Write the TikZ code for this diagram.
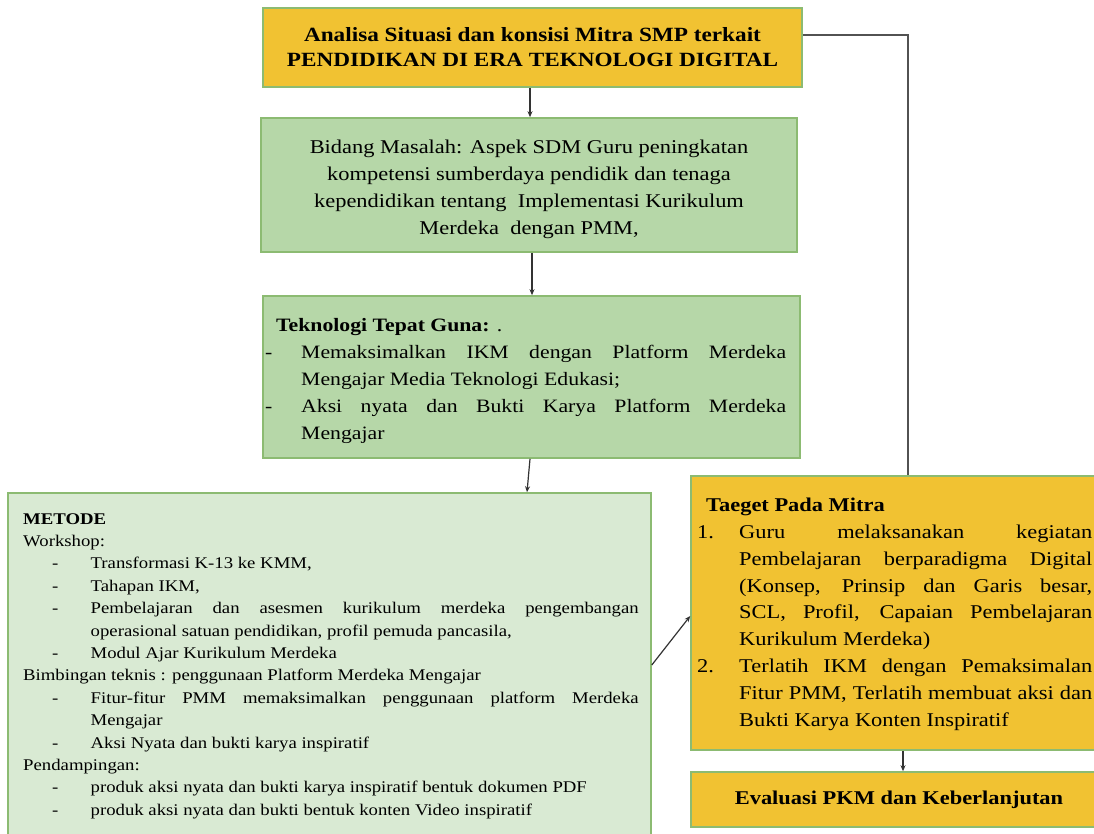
\documentclass[tikz,border=0pt]{standalone}
\usepackage{fontspec}
\setmainfont[FakeStretch=1.15]{Liberation Serif}
\usetikzlibrary{arrows.meta}
\definecolor{orng}{HTML}{F1C232}
\definecolor{gmid}{HTML}{B6D7A8}
\definecolor{glight}{HTML}{D9EAD3}
\definecolor{bord}{HTML}{8CBB72}
\definecolor{conn}{HTML}{333333}
\newcommand{\jl}[2]{\makebox[#1][s]{#2}}
\begin{document}
\begin{tikzpicture}[x=1pt,y=-1pt,
  box/.style={draw=bord,line width=1.6pt,inner sep=0pt,rectangle},
  txt/.style={inner sep=0pt,anchor=north west,align=left},
  arr/.style={draw=conn,line width=1.2pt,-{Stealth[length=6pt,width=5pt]}},
  plain/.style={draw=conn!85,line width=1.4pt}]
\useasboundingbox (0,0) rectangle (1094,834);
\clip (0,0) rectangle (1094,834);
% boxes
\node[box,fill=orng,minimum width=539pt,minimum height=79pt,align=center,
  font=\fontsize{20.2}{25}\selectfont\bfseries] (top) at (532.5,47.5)
  {Analisa Situasi dan konsisi Mitra SMP terkait\\PENDIDIKAN DI ERA TEKNOLOGI DIGITAL};
\node[box,fill=gmid,minimum width=536pt,minimum height=134pt,align=center,
  font=\fontsize{19.5}{27}\selectfont] (bid) at (529,185)
  {\rule{0pt}{22.5pt}Bidang Masalah: Aspek SDM Guru peningkatan\\kompetensi sumberdaya pendidik dan tenaga\\kependidikan tentang\ \ Implementasi Kurikulum\\Merdeka\ \ dengan PMM,};
\node[box,fill=gmid,minimum width=537pt,minimum height=162pt] (tek) at (531.5,377) {};
\node[box,fill=glight,minimum width=643pt,minimum height=352pt] (met) at (329.5,669) {};
\node[box,fill=orng,minimum width=416pt,minimum height=274pt] (tae) at (899,613) {};
\node[box,fill=orng,minimum width=416pt,minimum height=55pt,
  font=\fontsize{19.5}{24}\selectfont\bfseries] (eva) at (899,799.5) {Evaluasi PKM dan Keberlanjutan};
% texts
\node[txt,font=\fontsize{18.9}{27}\selectfont] (tektxt) at (262,318) {%
\hspace*{14pt}\textbf{Teknologi Tepat Guna:} .\\
\makebox[39pt][l]{\hspace*{3pt}-}\jl{485pt}{Memaksimalkan IKM dengan Platform Merdeka}\\
\hspace*{39pt}Mengajar Media Teknologi Edukasi;\\
\makebox[39pt][l]{\hspace*{3pt}-}\jl{485pt}{Aksi nyata dan Bukti Karya Platform Merdeka}\\
\hspace*{39pt}Mengajar};
\node[txt,font=\fontsize{16.3}{22.4}\selectfont] (mettxt) at (23,513) {%
\textbf{METODE}\\
Workshop:\\
\makebox[67.5pt][l]{\hspace*{29pt}-}Transformasi K-13 ke KMM,\\
\makebox[67.5pt][l]{\hspace*{29pt}-}Tahapan IKM,\\
\makebox[67.5pt][l]{\hspace*{29pt}-}\jl{548pt}{Pembelajaran dan asesmen kurikulum merdeka pengembangan}\\
\hspace*{67.5pt}operasional satuan pendidikan, profil pemuda pancasila,\\
\makebox[67.5pt][l]{\hspace*{29pt}-}Modul Ajar Kurikulum Merdeka\\
Bimbingan teknis : penggunaan Platform Merdeka Mengajar\\
\makebox[67.5pt][l]{\hspace*{29pt}-}\jl{548pt}{Fitur-fitur PMM memaksimalkan penggunaan platform Merdeka}\\
\hspace*{67.5pt}Mengajar\\
\makebox[67.5pt][l]{\hspace*{29pt}-}Aksi Nyata dan bukti karya inspiratif\\
Pendampingan:\\
\makebox[67.5pt][l]{\hspace*{29pt}-}produk aksi nyata dan bukti karya inspiratif bentuk dokumen PDF\\
\makebox[67.5pt][l]{\hspace*{29pt}-}produk aksi nyata dan bukti bentuk konten Video inspiratif};
\node[txt,font=\fontsize{19.5}{26.8}\selectfont] (taetxt) at (697,498) {%
\hspace*{9pt}\textbf{Taeget Pada Mitra}\\
\makebox[42pt][l]{1.}\jl{353pt}{Guru melaksanakan kegiatan}\\
\hspace*{42pt}\jl{353pt}{Pembelajaran berparadigma Digital}\\
\hspace*{42pt}\jl{353pt}{(Konsep, Prinsip dan Garis besar,}\\
\hspace*{42pt}\jl{353pt}{SCL, Profil, Capaian Pembelajaran}\\
\hspace*{42pt}Kurikulum Merdeka)\\
\makebox[42pt][l]{2.}\jl{353pt}{Terlatih IKM dengan Pemaksimalan}\\
\hspace*{42pt}\jl{353pt}{Fitur PMM, Terlatih membuat aksi dan}\\
\hspace*{42pt}Bukti Karya Konten Inspiratif};
% connectors
\draw[arr] ([xshift=-2.5pt]top.south) -- ([xshift=1pt]bid.north);
\draw[arr] ([xshift=3pt]bid.south) -- ([xshift=0.5pt]tek.north);
\draw[arr] ([xshift=-1.5pt]tek.south) -- ([xshift=197.5pt]met.north);
\draw[arr] ([yshift=4pt]met.east) -- ([yshift=-3pt]tae.west);
\draw[arr] ([xshift=4pt]tae.south) -- ([xshift=4pt]eva.north);
\draw[plain] ([yshift=12.5pt]top.east) -| ([xshift=9pt]tae.north);
\end{tikzpicture}
\end{document}
